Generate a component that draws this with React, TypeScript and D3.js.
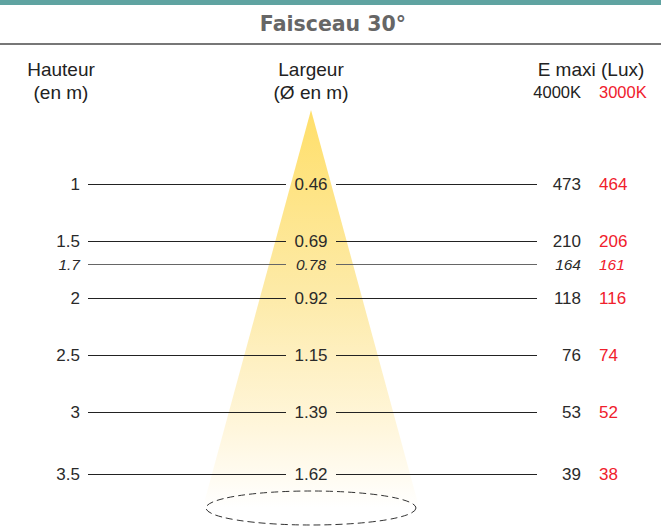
import React from "react";
import * as d3 from "d3";

const heights = [1, 1.5, 1.7, 2, 2.5, 3, 3.5];
const heightLabels = ["1", "1.5", "1.7", "2", "2.5", "3", "3.5"];
const diameters = ["0.46", "0.69", "0.78", "0.92", "1.15", "1.39", "1.62"];
const lux4000 = [473, 210, 164, 118, 76, 53, 39];
const lux3000 = [464, 206, 161, 116, 74, 52, 38];
const italicRows = [1.7];

const W = 661;
const H = 530;

export default function App() {
  const y = d3.scaleLinear().domain([1, 3, 3.5]).range([184, 412, 474]);
  const cx = 311;
  const apexY = 110;
  const coneBottom = 508;
  const slope = 0.272;
  const conePath =
    d3.line()([
      [cx, apexY],
      [cx + slope * (coneBottom - apexY), coneBottom],
      [cx - slope * (coneBottom - apexY), coneBottom],
    ]) + "Z";

  const txt = (
    x: number,
    yy: number,
    s: string,
    anchor: string,
    opts: any = {}
  ) => (
    <text
      x={x}
      y={yy}
      textAnchor={anchor}
      dominantBaseline="central"
      fontFamily="'Liberation Sans', Arial, sans-serif"
      fontSize={opts.size || 17}
      fontStyle={opts.italic ? "italic" : "normal"}
      fill={opts.fill || "#2a2a2a"}
    >
      {s}
    </text>
  );

  return (
    <svg
      width={W}
      height={H}
      style={{ position: "absolute", left: 0, top: 0, background: "#fff" }}
    >
      <defs>
        <linearGradient
          id="cone"
          x1="0"
          y1={apexY}
          x2="0"
          y2={coneBottom}
          gradientUnits="userSpaceOnUse"
        >
          <stop offset="0" stopColor="#ffdf6a" />
          <stop offset="0.45" stopColor="#fdeaa6" />
          <stop offset="0.8" stopColor="#fff6dc" />
          <stop offset="1" stopColor="#ffffff" />
        </linearGradient>
      </defs>
      <rect x={0} y={0} width={W} height={5} fill="#5fa3a1" />
      <text
        x={333}
        y={24}
        textAnchor="middle"
        dominantBaseline="central"
        fontFamily="'DejaVu Sans', sans-serif"
        fontWeight="bold"
        fontSize={20.5}
        fill="#666"
      >
        Faisceau 30°
      </text>
      <line x1={0} x2={W} y1={44} y2={44} stroke="#777" strokeWidth={2} />

      {txt(61, 69, "Hauteur", "middle", { size: 19, fill: "#222" })}
      {txt(61, 92, "(en m)", "middle", { size: 19, fill: "#222" })}
      {txt(cx, 69, "Largeur", "middle", { size: 19, fill: "#222" })}
      {txt(cx, 92, "(Ø en m)", "middle", { size: 19, fill: "#222" })}
      {txt(591, 69, "E maxi (Lux)", "middle", { size: 19, fill: "#222" })}
      {txt(581, 92, "4000K", "end", { size: 16.5, fill: "#222" })}
      {txt(599, 92, "3000K", "start", { size: 16.5, fill: "#f0202c" })}

      <path d={conePath} fill="url(#cone)" />
      <ellipse
        cx={cx}
        cy={508}
        rx={105}
        ry={17}
        fill="none"
        stroke="#333"
        strokeWidth={1}
        strokeDasharray="7,4"
      />

      {heights.map((h, i) => {
        const yy = Math.round(y(h)) + 0.5;
        const it = italicRows.includes(h);
        const stroke = it ? "#666" : "#222";
        const size = it ? 15.5 : 17;
        return (
          <g key={h}>
            {txt(80, yy, heightLabels[i], "end", { italic: it, size })}
            <line x1={88} x2={286} y1={yy} y2={yy} stroke={stroke} strokeWidth={1} />
            <line x1={336} x2={537} y1={yy} y2={yy} stroke={stroke} strokeWidth={1} />
            {txt(cx, yy, diameters[i], "middle", { italic: it, size })}
            {txt(581, yy, String(lux4000[i]), "end", { italic: it, size })}
            {txt(599, yy, String(lux3000[i]), "start", {
              italic: it,
              size,
              fill: "#f0202c",
            })}
          </g>
        );
      })}
    </svg>
  );
}
